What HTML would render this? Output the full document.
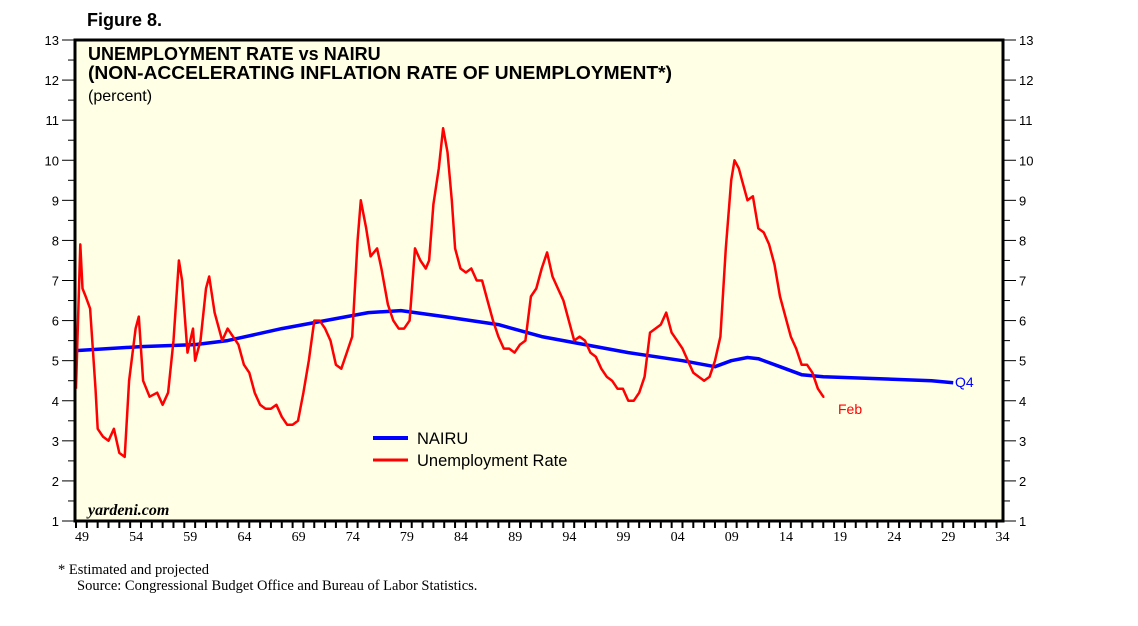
<!DOCTYPE html>
<html><head><meta charset="utf-8"><style>
body{margin:0;background:#fff;}
svg text{font-family:"Liberation Sans",sans-serif;}
.ser{font-family:"Liberation Serif",serif;}
</style></head><body>
<svg id="c" width="1138" height="621" xmlns="http://www.w3.org/2000/svg">
<text x="87" y="26" font-size="18" font-weight="bold">Figure 8.</text>
<rect x="75" y="40" width="928" height="481" fill="#FFFFE6"/>
<g id="ax"></g>
<g id="marks"></g>
<rect x="75" y="40" width="928" height="481" fill="none" stroke="#000" stroke-width="3"/>
<text x="88" y="60" font-size="18" font-weight="bold">UNEMPLOYMENT RATE vs NAIRU</text>
<text x="88" y="79" font-size="18" font-weight="bold" textLength="584" lengthAdjust="spacingAndGlyphs">(NON-ACCELERATING INFLATION RATE OF UNEMPLOYMENT*)</text>
<text x="88" y="101" font-size="16">(percent)</text>
<text x="88" y="515" font-size="16" font-style="italic" font-weight="bold" class="ser">yardeni.com</text>
<line x1="373" y1="438" x2="408" y2="438" stroke="#0000FF" stroke-width="4"/>
<text x="417" y="444" font-size="16.5">NAIRU</text>
<line x1="373" y1="460" x2="408" y2="460" stroke="#FF0000" stroke-width="3"/>
<text x="417" y="466" font-size="16.5">Unemployment Rate</text>
<text x="955" y="387" font-size="14" fill="#0000FF">Q4</text>
<text x="838" y="414" font-size="14" fill="#FF0000">Feb</text>
<text x="58" y="574" font-size="14.5" class="ser">*  Estimated and projected</text>
<text x="77" y="590" font-size="14.5" class="ser">Source: Congressional Budget Office and Bureau of Labor Statistics.</text>
</svg>
<script>
const yTicks=[1,2,3,4,5,6,7,8,9,10,11,12,13];
const xLabels=["49","54","59","64","69","74","79","84","89","94","99","04","09","14","19","24","29","34"];
const xLabelYears=[1949,1954,1959,1964,1969,1974,1979,1984,1989,1994,1999,2004,2009,2014,2019,2024,2029,2034];
const nairuT=[1949,1955,1960,1963,1968,1972,1976,1979,1983,1988,1992,1996,2000,2005,2008,2009.5,2011,2012,2014,2016,2018,2028,2030];
const nairuV=[5.25,5.35,5.4,5.5,5.8,6.0,6.2,6.25,6.1,5.9,5.6,5.4,5.2,5.0,4.85,5.0,5.08,5.05,4.85,4.65,4.6,4.5,4.45];
const urT=[1949,1949.4,1949.6,1949.9,1950.3,1950.8,1951,1951.5,1952,1952.5,1953,1953.5,1953.9,1954.5,1954.8,1955.2,1955.8,1956.5,1957,1957.5,1958,1958.5,1958.8,1959.3,1959.8,1960,1960.5,1961,1961.3,1961.8,1962.5,1963,1963.5,1964,1964.5,1965,1965.5,1966,1966.5,1967,1967.5,1968,1968.5,1969,1969.5,1970,1970.5,1971,1971.5,1972,1972.5,1973,1973.5,1974,1974.5,1975,1975.3,1975.8,1976.2,1976.8,1977.2,1977.8,1978.3,1978.8,1979.3,1979.8,1980.3,1980.8,1981.3,1981.6,1982,1982.5,1982.9,1983.3,1983.7,1984,1984.5,1985,1985.5,1986,1986.5,1987,1987.5,1988,1988.5,1989,1989.5,1990,1990.5,1991,1991.5,1992,1992.5,1993,1993.5,1994,1994.5,1995,1995.5,1996,1996.5,1997,1997.5,1998,1998.5,1999,1999.5,2000,2000.5,2001,2001.5,2002,2002.5,2003,2003.5,2004,2004.5,2005,2005.5,2006,2006.5,2007,2007.5,2008,2008.5,2009,2009.5,2009.8,2010.2,2010.5,2011,2011.5,2012,2012.5,2013,2013.5,2014,2014.5,2015,2015.5,2016,2016.5,2017,2017.5,2018,2018.1];
const urV=[4.3,7.9,6.8,6.6,6.3,4.3,3.3,3.1,3.0,3.3,2.7,2.6,4.5,5.8,6.1,4.5,4.1,4.2,3.9,4.2,5.5,7.5,7.0,5.2,5.8,5.0,5.5,6.8,7.1,6.2,5.5,5.8,5.6,5.4,4.9,4.7,4.2,3.9,3.8,3.8,3.9,3.6,3.4,3.4,3.5,4.2,5.0,6.0,6.0,5.8,5.5,4.9,4.8,5.2,5.6,8.0,9.0,8.3,7.6,7.8,7.3,6.4,6.0,5.8,5.8,6.0,7.8,7.5,7.3,7.5,8.9,9.8,10.8,10.2,9.0,7.8,7.3,7.2,7.3,7.0,7.0,6.5,6.0,5.6,5.3,5.3,5.2,5.4,5.5,6.6,6.8,7.3,7.7,7.1,6.8,6.5,6.0,5.5,5.6,5.5,5.2,5.1,4.8,4.6,4.5,4.3,4.3,4.0,4.0,4.2,4.6,5.7,5.8,5.9,6.2,5.7,5.5,5.3,5.0,4.7,4.6,4.5,4.6,5.0,5.6,7.8,9.5,10.0,9.8,9.5,9.0,9.1,8.3,8.2,7.9,7.4,6.6,6.1,5.6,5.3,4.9,4.9,4.7,4.3,4.1,4.1];
const NS="http://www.w3.org/2000/svg";
const X=t=>76+(t-1949)*10.83;
const Y=v=>521-(v-1)*(481/12);
function mk(tag,attrs,parent){const e=document.createElementNS(NS,tag);for(const k in attrs)e.setAttribute(k,attrs[k]);parent.appendChild(e);return e;}
const ax=document.getElementById('ax'),marks=document.getElementById('marks');
yTicks.forEach(v=>{
  const y=Y(v);
  let l=mk('line',{x1:62,y1:y,x2:75,y2:y,stroke:'#000'},ax);
  
  
  l=mk('line',{x1:1003,y1:y,x2:1016,y2:y,stroke:'#000'},ax);
  
  
  if(v<13){
    l=mk('line',{x1:68,y1:Y(v+0.5),x2:75,y2:Y(v+0.5),stroke:'#000'},ax);
    
    
    l=mk('line',{x1:1003,y1:Y(v+0.5),x2:1010,y2:Y(v+0.5),stroke:'#000'},ax);
    
    
  }
  let t=mk('text',{x:59,y:y+5,'font-size':13,'text-anchor':'end'},ax);t.textContent=v;
  
  
  t=mk('text',{x:1019,y:y+5,'font-size':13},ax);t.textContent=v;
  
  
});
for(let yr=1949;yr<=2034;yr++){
  const l=mk('line',{x1:X(yr),y1:521,x2:X(yr),y2:528,stroke:'#000','stroke-width':2},ax);
  
  
}
xLabels.forEach((s,i)=>{
  const t=mk('text',{x:X(xLabelYears[i])+6,y:541,'font-size':14,'text-anchor':'middle',class:'ser'},ax);
  t.textContent=s;
  
  
});
function path(T,V){return T.map((t,i)=>(i?'L':'M')+X(t).toFixed(1)+' '+Y(V[i]).toFixed(1)).join(' ');}
let p=mk('path',{d:path(nairuT,nairuV),fill:'none',stroke:'#0000FF','stroke-width':3.5,'stroke-linejoin':'round'},marks);


p=mk('path',{d:path(urT,urV),fill:'none',stroke:'#FF0000','stroke-width':2.5,'stroke-linejoin':'round'},marks);


</script>
</body></html>
